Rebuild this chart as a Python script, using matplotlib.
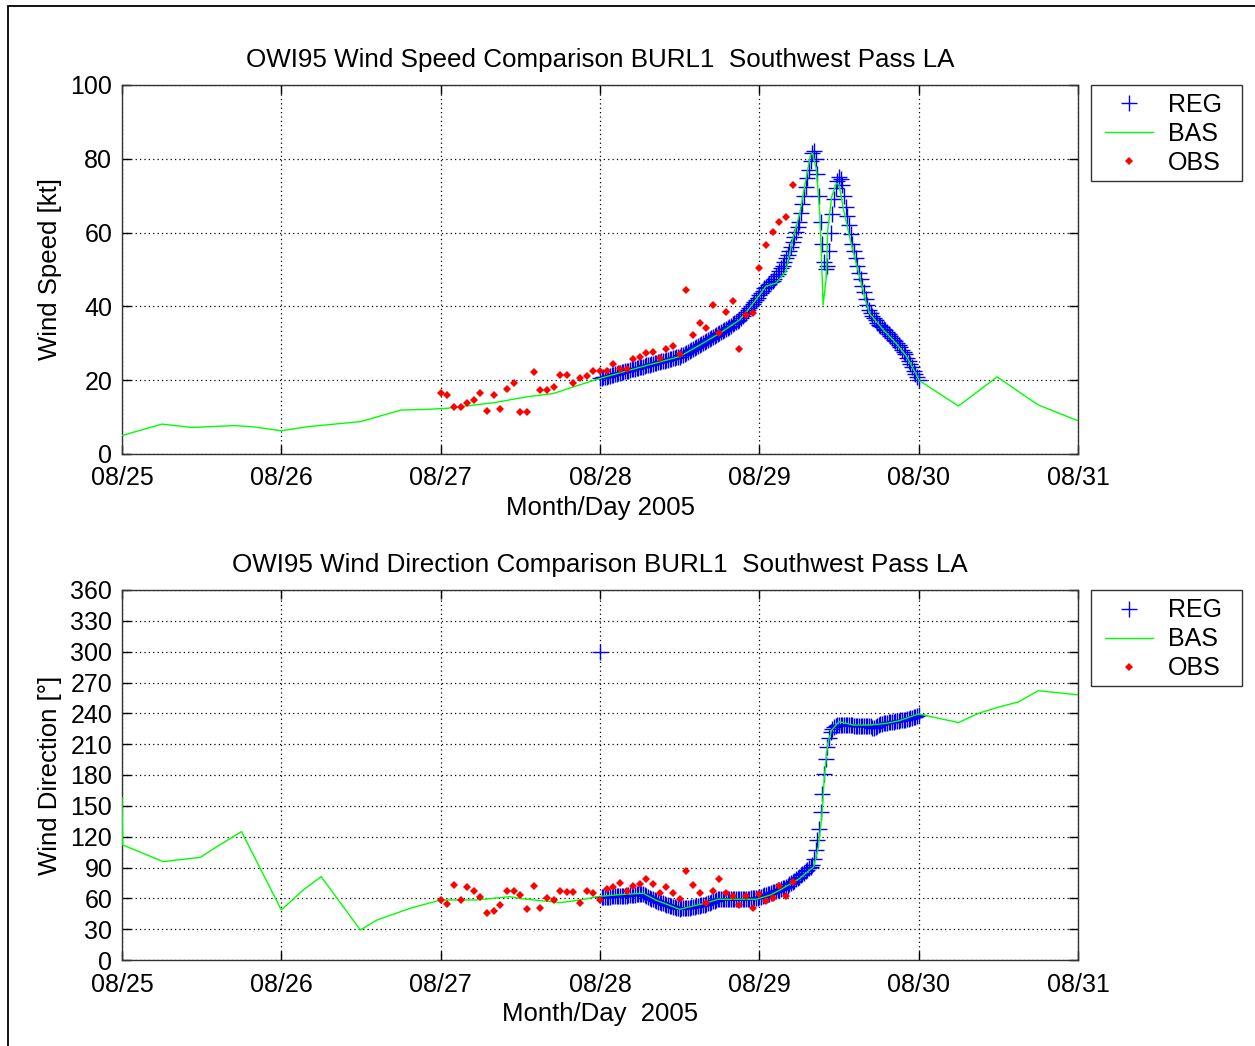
import numpy as np
import matplotlib.pyplot as plt
from matplotlib.patches import Rectangle
from matplotlib.lines import Line2D

plt.rcParams['font.family'] = ['Liberation Sans', 'DejaVu Sans']

# --- data (hours since 08/25 00:00) ---
day_labels = ['08/25', '08/26', '08/27', '08/28', '08/29', '08/30', '08/31']

# REG: 15-minute series starting 08/28 00:00
reg_start_h = 72.0
reg_step_h = 0.25
reg_speed = [
    20.5, 20.6, 20.8, 20.9, 21.0, 21.1, 21.2, 21.4, 21.5, 21.6,
    21.7, 21.9, 22.0, 22.1, 22.2, 22.4, 22.5, 22.6, 22.7, 22.9,
    23.0, 23.1, 23.2, 23.4, 23.5, 23.6, 23.7, 23.9, 24.0, 24.1,
    24.2, 24.4, 24.5, 24.6, 24.7, 24.8, 25.0, 25.1, 25.2, 25.3,
    25.4, 25.6, 25.7, 25.8, 25.9, 26.0, 26.2, 26.3, 26.4, 26.7,
    26.9, 27.2, 27.4, 27.7, 28.0, 28.2, 28.5, 28.7, 29.0, 29.2,
    29.5, 29.8, 30.0, 30.3, 30.6, 30.8, 31.1, 31.4, 31.6, 31.9,
    32.2, 32.4, 32.7, 33.0, 33.3, 33.6, 33.9, 34.2, 34.5, 34.8,
    35.1, 35.4, 35.7, 36.0, 36.3, 36.8, 37.4, 37.9, 38.4, 39.0,
    39.5, 40.1, 40.7, 41.2, 41.8, 42.4, 43.0, 43.7, 44.3, 45.0,
    45.3, 45.7, 46.0, 46.5, 47.0, 47.5, 48.2, 48.9, 49.6, 50.3,
    51.0, 52.0, 53.0, 54.0, 55.0, 56.0, 57.4, 58.8, 60.2, 61.6,
    63.0, 65.3, 67.7, 70.0, 72.3, 74.7, 77.0, 79.3, 81.5, 82.0,
    80.0, 76.0, 70.0, 63.0, 57.0, 52.0, 50.0, 51.0, 55.0, 60.0,
    65.0, 69.0, 72.0, 74.0, 75.0, 74.5, 73.0, 70.0, 67.0, 64.5,
    62.0, 59.5, 57.0, 55.0, 53.0, 51.0, 49.0, 47.3, 45.5, 43.8,
    42.0, 40.5, 39.0, 38.2, 37.5, 36.9, 36.2, 35.6, 35.0, 34.6,
    34.3, 33.9, 33.5, 33.0, 32.5, 32.0, 31.5, 31.0, 30.5, 30.0,
    29.5, 28.9, 28.3, 27.6, 27.0, 26.1, 25.3, 24.4, 23.5, 22.6,
    21.8, 20.9, 20.0,
]
reg_dir = [
    300, 61.0, 61.2, 61.4, 61.5, 61.6, 61.7, 61.8, 61.9, 62.0,
    62.0, 62.1, 62.2, 62.3, 62.4, 62.5, 62.6, 62.8, 63.0, 63.2,
    63.4, 63.6, 63.8, 64.0, 64.2, 64.4, 64.5, 63.6, 62.7, 61.7,
    60.8, 59.8, 58.9, 57.9, 57.0, 56.5, 56.0, 55.5, 55.0, 54.5,
    54.0, 53.5, 53.0, 52.5, 52.0, 51.5, 51.0, 50.5, 50.0, 50.2,
    50.3, 50.5, 50.7, 50.8, 51.0, 51.3, 51.7, 52.0, 52.3, 52.7,
    53.0, 53.3, 53.7, 54.0, 54.6, 55.3, 55.9, 56.5, 57.1, 57.8,
    58.4, 59.0, 59.0, 59.1, 59.1, 59.2, 59.2, 59.3, 59.3, 59.4,
    59.4, 59.5, 59.5, 59.5, 59.6, 59.6, 59.7, 59.7, 59.8, 59.8,
    59.8, 59.9, 59.9, 60.0, 60.0, 60.6, 61.1, 61.7, 62.3, 62.9,
    63.4, 64.0, 64.6, 65.3, 65.9, 66.5, 67.2, 67.8, 68.5, 69.1,
    69.7, 70.4, 71.0, 72.2, 73.5, 74.8, 76.0, 77.2, 78.5, 79.8,
    81.0, 82.4, 83.8, 85.1, 86.5, 87.9, 89.3, 90.6, 92.0, 98.0,
    107, 117, 127, 144, 162, 181, 196, 207, 216, 222,
    225, 227, 228, 228.5, 229, 229, 228.8, 228.6, 228.5, 228.4,
    228.3, 228.2, 228.2, 228.1, 228.0, 228.0, 227.9, 227.9, 227.8, 227.8,
    227.7, 227.6, 227.5, 227.3, 225.4, 226.2, 227.0, 227.8, 228.6, 229.3,
    230.0, 230.3, 230.6, 230.9, 231.1, 231.4, 231.7, 232.0, 232.2, 232.5,
    232.8, 233.1, 233.3, 233.6, 233.9, 234.2, 234.5, 235.0, 235.6, 236.2,
    236.8, 237.4, 238.0,
]

# BAS: irregular nodes
bas_speed_h = [0, 6, 10.5, 17, 20, 24, 28, 36, 42, 46, 49, 56, 61, 65, 68, 72,
               78, 84, 87, 90, 93, 94.5, 96, 97, 98.5, 100, 101, 102.1, 103,
               103.7, 104, 104.6, 105.1, 105.4, 105.6, 106.1, 106.3, 106.9,
               107.6, 108, 108.7, 109.7, 110.6, 112, 112.6, 114.7, 116.6,
               118.2, 119.8, 120, 126, 131.8, 138, 144]
bas_speed = [5.0, 8.1, 7.2, 7.7, 7.3, 6.3, 7.4, 8.8, 11.9, 12.1, 12.4, 13.9,
             15.5, 16.4, 18.2, 20.5, 23.5, 26.4, 29.5, 32.7, 36.3, 39.5, 43.0,
             45.5, 46.3, 49.5, 58.0, 65.3, 74.3, 81.0, 81.5, 77.0, 65.3, 51.7,
             40.4, 48.0, 60.7, 69.7, 73.4, 73.0, 66.1, 58.0, 51.7, 41.7, 38.1,
             33.6, 30.0, 26.4, 21.0, 20.0, 13.0, 20.9, 13.3, 9.0]
bas_dir_h = [0, 0.1, 6.2, 11.8, 14.3, 18, 24, 27.3, 30, 35.9, 38.4, 43.4, 48,
             53.4, 58.4, 60, 66, 69, 72, 75.6, 78.5, 80.4, 84, 85.6, 87.8,
             89.8, 95.5, 97.7, 99.1, 102.1, 104.2, 104.9, 105.4, 105.8, 106.3,
             106.9, 108, 110.2, 112.7, 115.2, 117.1, 120, 126, 129, 132, 135,
             138, 144]
bas_dir = [158, 112, 95.7, 99.9, 110.3, 124.9, 48.7, 68.1, 81.1, 29.2, 38.9,
           50.3, 58.4, 58.4, 61.6, 59.8, 55.8, 58.4, 62.0, 63.9, 64.9, 58.4,
           49.3, 51.9, 55.2, 59.1, 59.1, 63.3, 68.1, 79.5, 90.8, 110.3, 139.4,
           178.4, 210.8, 223.8, 231.9, 228.6, 228.6, 230.3, 232.9, 239.4,
           231.0, 240.0, 246.0, 251.0, 262.0, 258.0]

# OBS: hourly from 08/27 00:00 to 08/29 05:00
obs_start_h = 48
obs_speed = [16.4, 16.1, 12.8, 12.8, 13.9, 14.5, 16.4, 11.7, 16.1, 12.1,
             17.7, 19.2, 11.5, 11.5, 22.1, 17.3, 17.3, 18.2, 21.3, 21.5,
             19.2, 20.5, 21.2, 22.6, 22.6, 22.6, 24.4, 23.1, 22.9, 25.7,
             26.4, 27.5, 27.6, 26.0, 28.4, 29.3, 27.0, 44.4, 32.2, 35.4,
             34.1, 40.4, 32.9, 38.6, 41.5, 28.4, 37.7, 38.3, 50.3, 56.6,
             60.2, 62.9, 64.1, 72.9]
obs_dir = [58.4, 54.5, 73.0, 58.4, 70.7, 67.4, 61.0, 46.0, 47.7, 53.5,
           67.4, 67.4, 63.6, 49.9, 72.0, 50.9, 60.0, 58.4, 67.4, 66.1,
           66.1, 55.8, 67.4, 64.9, 58.0, 69.4, 70.7, 75.2, 67.1, 72.0,
           73.6, 78.8, 74.2, 64.9, 70.7, 64.9, 59.1, 86.9, 73.3, 64.9,
           55.8, 67.1, 78.8, 64.9, 62.3, 53.2, 62.3, 50.9, 64.0, 57.6,
           60.0, 72.0, 62.6, 76.2]


def to_days(start, step, n):
    return (start + step * np.arange(n)) / 24.0


fig = plt.figure(figsize=(12.55, 10.46), dpi=100)
fig.patches.append(Rectangle((8 / 1255, -0.05), 1.2, 1.05 - 6 / 1046,
                             transform=fig.transFigure, fill=False,
                             ec='black', lw=1.3))

W, H = 1255.0, 1046.0
ax1 = fig.add_axes([122 / W, 1 - 454 / H, 956 / W, 369 / H])
ax2 = fig.add_axes([122 / W, 1 - 960 / H, 956 / W, 370 / H])

panels = [
    (ax1, reg_speed, bas_speed_h, bas_speed, obs_speed,
     'OWI95 Wind Speed Comparison BURL1  Southwest Pass LA',
     'Wind Speed [kt]', 'Month/Day 2005', np.arange(0, 101, 20), 100, 85),
    (ax2, reg_dir, bas_dir_h, bas_dir, obs_dir,
     'OWI95 Wind Direction Comparison BURL1  Southwest Pass LA',
     'Wind Direction [°]', 'Month/Day  2005', np.arange(0, 361, 30), 360, 590),
]

for ax, reg, bas_h, bas, obs, title, ylab, xlab, yticks, ymax, top_px in panels:
    ax.plot(to_days(reg_start_h, reg_step_h, len(reg)), reg, '+', color='blue',
            markersize=12, markeredgewidth=1.0)
    ax.plot(np.array(bas_h) / 24.0, bas, '-', color=(0, 1, 0), lw=1.0,
            zorder=3)
    ax.plot(to_days(obs_start_h, 1, len(obs)), obs, 'D', color='red',
            markersize=3.8, markeredgewidth=0, zorder=4)

    ax.set_xlim(0, 6)
    ax.set_ylim(0, ymax)
    ax.set_xticks(range(7))
    ax.set_xticklabels(day_labels)
    ax.set_yticks(yticks)
    ax.grid(True, color='black', linestyle=(0, (1, 2.5)), linewidth=0.9)
    ax.tick_params(direction='in', length=6.5, width=1.0, top=True,
                   right=True, labelsize=18, colors='black')
    ax.tick_params(axis='x', pad=9)
    ax.tick_params(axis='y', pad=7)
    for s in ax.spines.values():
        s.set_linewidth(1.0)
        s.set_color('#333333')
    ax.set_title(title, fontsize=18.7, pad=13)
    ax.set_ylabel(ylab, fontsize=18.5, labelpad=6)
    ax.set_xlabel(xlab, fontsize=18.5, labelpad=4)

    # legend box drawn separately so its size matches the original
    fig.patches.append(Rectangle((1091 / W, 1 - (top_px + 96) / H),
                                 151 / W, 96 / H, transform=fig.transFigure,
                                 fill=False, ec='#333333', lw=1.0))
    handles = [
        Line2D([], [], ls='none', marker='+', color='blue', markersize=11),
        Line2D([], [], color=(0, 1, 0), lw=1.0),
        Line2D([], [], ls='none', marker='D', color='red', markersize=3.8,
               markeredgewidth=0),
    ]
    fig.legend(handles, ['REG', 'BAS', 'OBS'], loc='upper left',
               bbox_to_anchor=(1097 / W, 1 - top_px / H),
               fontsize=18, frameon=False, borderaxespad=0,
               handlelength=1.9, handletextpad=0.6,
               borderpad=0.33, labelspacing=0.2)

fig.savefig('out.png', dpi=100)
